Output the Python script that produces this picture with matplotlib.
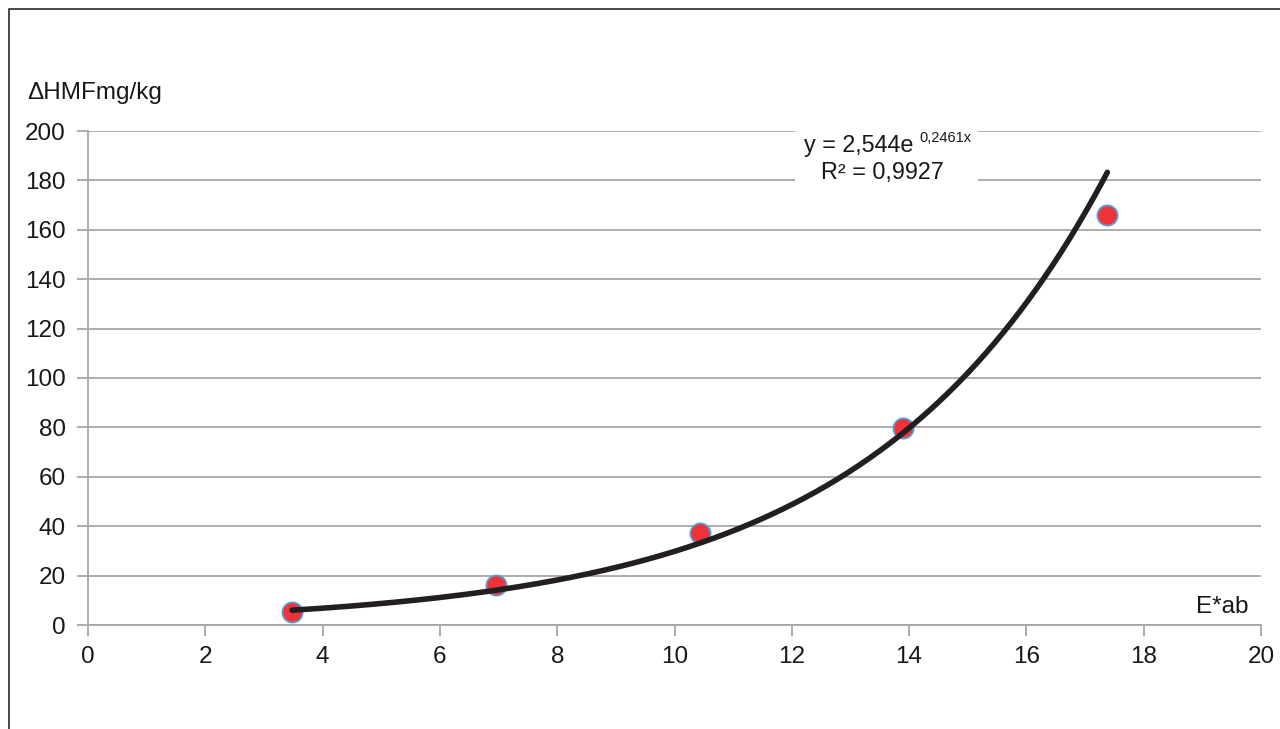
import numpy as np
import matplotlib
matplotlib.use("Agg")
import matplotlib.pyplot as plt
from matplotlib.lines import Line2D
from matplotlib.patches import Rectangle

plt.rcParams["font.family"] = ["Liberation Sans", "DejaVu Sans"]

# data
e_ab = [3.48, 6.95, 10.43, 13.9, 17.38]
hmf = [5.3, 16.2, 37.2, 79.8, 166.0]

# exponential trend shown on the chart: y = a * exp(b x)
fit_a = 2.544
fit_b = 0.2461

x_ticks = list(range(0, 21, 2))
y_ticks = list(range(0, 201, 20))

fig = plt.figure(figsize=(12.8, 7.29), dpi=100)
ax = fig.add_axes([88 / 1280, 1 - 625 / 729, (1261 - 88) / 1280, (625 - 131) / 729])

grid_col = "#a6a6a6"
text_col = "#1a1718"
fs = 17.5
eq_fs = 16.8

xs = np.linspace(min(e_ab), max(e_ab), 300)
ax.plot(xs, fit_a * np.exp(fit_b * xs), color="#231f20", linewidth=4,
        solid_capstyle="round", zorder=4)
ax.plot(e_ab, hmf, "o", color="#ee3338", markeredgecolor="#5b9bd5",
        markeredgewidth=1.3, markersize=14.5, zorder=3)

ax.set_xlim(0, 20)
ax.set_ylim(0, 200)
ax.set_xticks(x_ticks)
ax.set_yticks(y_ticks)
ax.tick_params(axis="both", labelsize=fs, colors=grid_col, labelcolor=text_col,
               length=8, width=1.3)
ax.tick_params(axis="y", pad=8)
ax.tick_params(axis="x", pad=7)
ax.set_axisbelow(True)
ax.yaxis.grid(True, color=grid_col, linewidth=1.3)
for side in ("top", "right"):
    ax.spines[side].set_visible(False)
for side in ("left", "bottom"):
    ax.spines[side].set_color(grid_col)
    ax.spines[side].set_linewidth(1.3)

# white box behind the trend label
ax.add_patch(Rectangle((12.05, 177.5), 3.12, 24, facecolor="white",
                       edgecolor="none", zorder=1.5, clip_on=False))
ax.text(12.2, 194, "y = 2,544e", fontsize=eq_fs, color=text_col, va="center", ha="left", zorder=5)
ax.text(14.17, 197, "0,2461x", fontsize=10.5, color=text_col, va="center", ha="left", zorder=5)
ax.text(13.55, 183, "R² = 0,9927", fontsize=eq_fs, color=text_col, va="center", ha="center", zorder=5)

# axis titles
fig.text(27 / 1280, 1 - 93 / 729, "ΔHMFmg/kg", fontsize=fs, color=text_col, va="center", ha="left")
fig.text(1249 / 1280, 1 - 607 / 729, "E*ab", fontsize=fs, color=text_col, va="center", ha="right")

# outer frame, clipped at the right and bottom
fx = 8.5 / 1280
fy = 1 - 8.5 / 729
fig.add_artist(Line2D([fx, fx, 1.0], [0.0, fy, fy], transform=fig.transFigure,
                      color="#3a3a3a", linewidth=1.3))

fig.savefig("out.png", dpi=100)
